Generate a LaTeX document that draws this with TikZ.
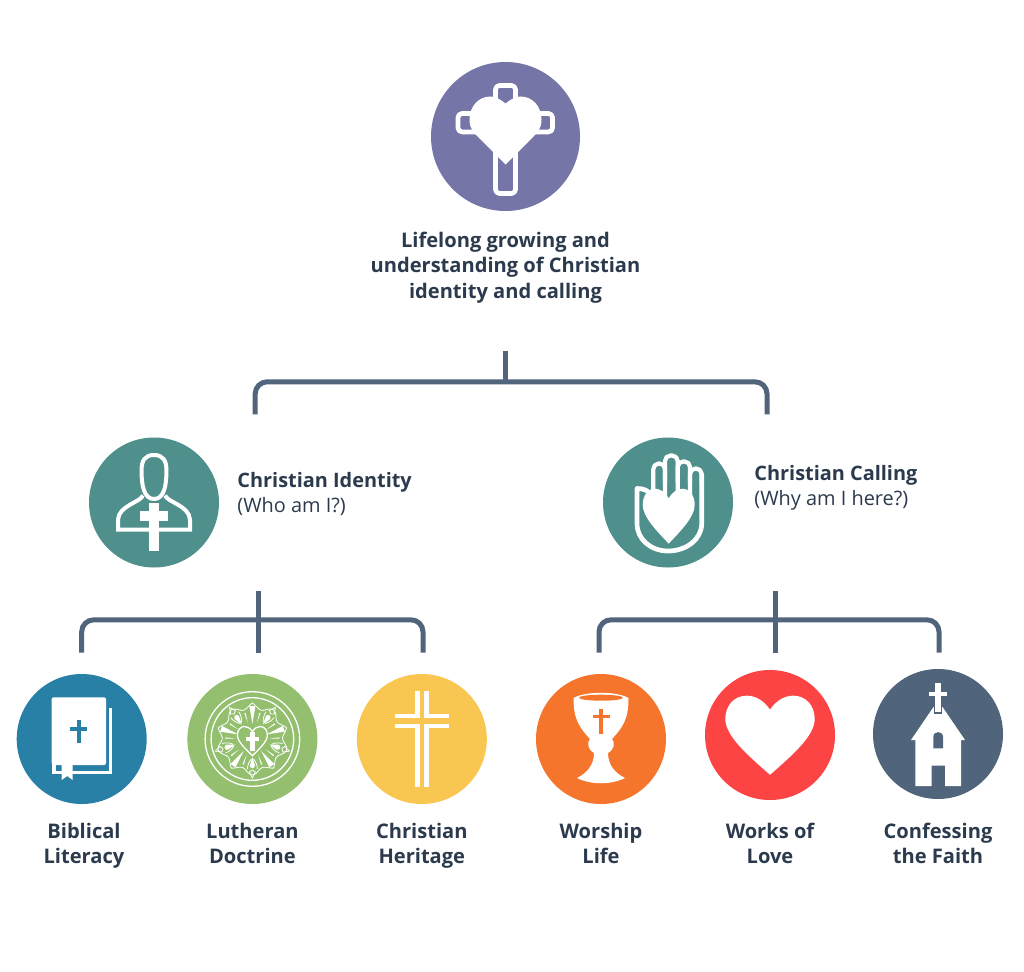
\documentclass[tikz,border=0pt]{standalone}
\usepackage{fontspec}
\setmainfont{Open Sans}
\usepackage{xcolor}
\usetikzlibrary{positioning}

\definecolor{inkText}{HTML}{2B3A4C}
\definecolor{barLine}{HTML}{50647B}
\definecolor{rootPurple}{HTML}{7575A8}
\definecolor{midTeal}{HTML}{4F8F8C}
\definecolor{bibBlue}{HTML}{2980A6}
\definecolor{lutGreen}{HTML}{93BF6F}
\definecolor{herYellow}{HTML}{F9C651}
\definecolor{worOrange}{HTML}{F5752D}
\definecolor{lovRed}{HTML}{FC4445}
\definecolor{conNavy}{HTML}{50647B}

% heart of half width 1
\def\heartpath{(0,-0.57) .. controls (0.15,-0.78) and (0.33,-0.88) .. (0.52,-0.88)
  .. controls (0.8,-0.88) and (1,-0.66) .. (1,-0.36)
  .. controls (1,0.02) and (0.5,0.45) .. (0,0.89)
  .. controls (-0.5,0.45) and (-1,0.02) .. (-1,-0.36)
  .. controls (-1,-0.66) and (-0.8,-0.88) .. (-0.52,-0.88)
  .. controls (-0.33,-0.88) and (-0.15,-0.78) .. (0,-0.57) -- cycle}

\begin{document}
\begin{tikzpicture}[
  x=1pt, y=-1pt,
  badge/.style={circle, minimum size=130pt, inner sep=0pt},
  bigbadge/.style={circle, minimum size=149pt, inner sep=0pt},
  capt/.style={align=center, text=inkText, inner sep=0pt,
              font=\bfseries\fontsize{20.1}{25.4}\selectfont},
  sidetext/.style={align=left, text=inkText, inner sep=0pt,
               font=\fontsize{19.9}{25}\selectfont},
  barline/.style={draw=barLine, line width=5pt, rounded corners=12pt},
  stemline/.style={draw=barLine, line width=5pt},
  wline/.style={draw=white, line width=4.7pt, line join=round},
  wfill/.style={fill=white, draw=none},
  thinw/.style={draw=white, line width=0.8pt}
]
  \useasboundingbox (0,0) rectangle (1024,971);

  % circles
  \node[bigbadge, fill=rootPurple] (root) at (505.5,136.5) {};
  \node[badge, fill=midTeal] (identity) at (154,502.5) {};
  \node[badge, fill=midTeal] (calling) at (668,502.5) {};
  \node[badge, fill=bibBlue] (biblical) at (81.7,739) {};
  \node[badge, fill=lutGreen, right=40.3pt of biblical] (lutheran) {};
  \node[badge, fill=herYellow, right=39pt of lutheran] (heritage) {};
  \node[badge, fill=worOrange] (worship) at (601,739) {};
  \node[badge, fill=lovRed] (works) at (770,735) {};
  \node[badge, fill=conNavy] (confess) at (938,734) {};

  % texts
  \node[capt, below=20.5pt of root] (rootText) {Lifelong growing and\\understanding of Christian\\identity and calling};
  \node[sidetext, right=18pt of identity.east, yshift=8pt] (identityText) {\textbf{Christian Identity}\\(Who am I?)};
  \node[sidetext, right=21pt of calling.east, yshift=15pt] (callingText) {\textbf{Christian Calling}\\(Why am I here?)};
  \node[capt, below=18.5pt of biblical, xshift=2.3pt] (biblicalText) {Biblical\\Literacy};
  \node[capt, below=18.5pt of lutheran] (lutheranText) {Lutheran\\Doctrine};
  \node[capt, below=18.5pt of heritage] (heritageText) {Christian\\Heritage};
  \node[capt, below=18.5pt of worship] (worshipText) {Worship\\Life};
  \node[capt, below=22.5pt of works] (worksText) {Works of\\Love};
  \node[capt, below=23.5pt of confess] (confessText) {Confessing\\the Faith};

  % brackets
  \coordinate (rootStem) at (505.8,350.5);
  \coordinate (rootJoin) at (505.8,381.8);
  \coordinate (identityEnd) at (255.2,414.3);
  \coordinate (callingEnd) at (767,414.3);
  \draw[stemline] (rootStem) -- (rootJoin);
  \draw[barline] (identityEnd) |- (rootJoin) -| (callingEnd);

  \coordinate (identityStem) at (258,590.7);
  \coordinate (identityFoot) at (258,652.7);
  \coordinate (identityJoin) at (258,619.8);
  \coordinate (biblicalEnd) at (81.7,652.7);
  \coordinate (heritageEnd) at (423,652.7);
  \draw[stemline] (identityStem) -- (identityFoot);
  \draw[barline] (biblicalEnd) |- (identityJoin) -| (heritageEnd);

  \coordinate (callingStem) at (775,590.7);
  \coordinate (callingFoot) at (775,652.7);
  \coordinate (callingJoin) at (775,619.8);
  \coordinate (worshipEnd) at (599,652.7);
  \coordinate (confessEnd) at (939,652.7);
  \draw[stemline] (callingStem) -- (callingFoot);
  \draw[barline] (worshipEnd) |- (callingJoin) -| (confessEnd);

  % cross and heart
  \begin{scope}[shift={(root.center)}]
    \draw[wline, rounded corners=4pt] (-10,-23) -- (-10,-51) -- (10,-51) -- (10,-23) -- (47,-23)
      -- (47,-4.6) -- (10,-4.6) -- (10,57) -- (-10,57) -- (-10,-4.6) -- (-47.5,-4.6) -- (-47.5,-23) -- cycle;
    \path[wfill] (0,-33) .. controls (5,-37) and (10,-40) .. (15,-40)
      .. controls (27,-40) and (36,-30) .. (36,-17) .. controls (36,-8) and (32,-4) .. (28,0)
      -- (0,28) -- (-28,0) .. controls (-32,-4) and (-36,-8) .. (-36,-17)
      .. controls (-36,-30) and (-27,-40) .. (-15,-40) .. controls (-10,-40) and (-5,-37) .. (0,-33) -- cycle;
  \end{scope}

  % person
  \begin{scope}[shift={(identity.center)}]
    \draw[wline, line width=4pt] (0,-47.5) .. controls (-9,-47.5) and (-12.5,-42) .. (-12.5,-32)
      .. controls (-12.5,-17) and (-10,-3.5) .. (0,-3.5) .. controls (10,-3.5) and (12.5,-17) .. (12.5,-32)
      .. controls (12.5,-42) and (9,-47.5) .. (0,-47.5) -- cycle;
    \draw[wline, line width=4pt, line join=miter] (-11,-7) .. controls (-14,0) and (-35,3) .. (-36,17) -- (-36,27)
      -- (36,27) -- (36,17) .. controls (35,3) and (14,0) .. (11,-7);
    \path[wfill] (-4.7,0) rectangle (5,48);
    \path[wfill] (-14,8.5) rectangle (14,18.5);
  \end{scope}

  % hand and heart
  \begin{scope}[shift={(calling.center)}]
    \draw[wline] (-16,-7) .. controls (-20,-12) and (-24,-14) .. (-31,-14) -- (-31,21)
      .. controls (-31,37) and (-17,48.5) .. (0,48.5) .. controls (18,48.5) and (33.7,37) .. (33.7,21) -- (33.7,-29);
    \draw[wline, line width=4.2pt, rounded corners=5.5pt] (33.7,-20) -- (33.7,-34) -- (22,-34) -- (22,-5);
    \draw[wline, line width=4.2pt, rounded corners=5.5pt] (22,-20) -- (22,-41) -- (9.7,-41) -- (9.7,-5);
    \draw[wline, line width=4.2pt, rounded corners=5.5pt] (9.7,-20) -- (9.7,-47) -- (-3,-47) -- (-3,-5);
    \draw[wline, line width=4.2pt, rounded corners=5.5pt] (-3,-20) -- (-3,-39) -- (-14.7,-39) -- (-14.7,-5);
    \path[wfill, shift={(0.7,13.5)}, xscale=26, yscale=31] \heartpath;
  \end{scope}

  % book
  \begin{scope}[shift={(biblical.center)}]
    \path[wfill, rounded corners=2pt] (-30,26) -- (-30,-41.7) -- (24.3,-41.7) -- (24.3,26) -- cycle;
    \path[wfill] (27.3,-31) rectangle (30.7,35);
    \path[wfill] (-30,25) rectangle (-26,35);
    \path[wfill] (-30,32) rectangle (30.7,35);
    \path[wfill] (-20,25) -- (-9,25) -- (-9,41) -- (-14.5,37) -- (-20,41) -- cycle;
    \path[fill=bibBlue] (-5,-19) rectangle (-1,3.7);
    \path[fill=bibBlue] (-11.7,-12) rectangle (5.7,-8);
  \end{scope}

  % rose
  \begin{scope}[shift={(lutheran.center)}]
    \draw[thinw, line width=1.3pt] (0,0) circle (47.3pt);
    \draw[thinw, line width=1.3pt] (0,0) circle (41.3pt);
    \foreach \ang in {0,72,144,216,288} {
      \begin{scope}[rotate=\ang]
        \path[wfill] (-3,-33) -- (3,-33) -- (0,-15) -- cycle;
        \draw[thinw] (-21.2,-29.1) .. controls (-16,-32) and (-12,-27) .. (-8,-29) .. controls (-5,-31) and (-2,-35) .. (0,-36)
          .. controls (2,-35) and (5,-31) .. (8,-29) .. controls (12,-27) and (16,-32) .. (21.2,-29.1);
        \begin{scope}[rotate=36]
          \path[wfill] (-2.6,-26.5) .. controls (-2.6,-30) and (2.6,-30) .. (2.6,-26.5) -- (0,-18) -- cycle;
          \draw[thinw] (-3,-33) -- (0,-39) -- (3,-33) -- (0,-31) -- cycle;
          \draw[thinw] (-5,-30) .. controls (-5,-26) and (-3,-22) .. (-1,-20);
          \draw[thinw] (5,-30) .. controls (5,-26) and (3,-22) .. (1,-20);
        \end{scope}
        \begin{scope}[rotate=16]
          \path[wfill] (-0.7,-27) -- (0.7,-27) -- (0,-17) -- cycle;
        \end{scope}
        \begin{scope}[rotate=-16]
          \path[wfill] (-0.7,-27) -- (0.7,-27) -- (0,-17) -- cycle;
        \end{scope}
      \end{scope}
    }
    \path[fill=lutGreen, draw=white, line width=1.3pt, shift={(0,2)}, xscale=15, yscale=16.5] \heartpath;
    \path[wfill] (-2.1,-7) rectangle (2.1,11.5);
    \path[wfill] (-6.5,-2) rectangle (7,2);
  \end{scope}

  % double cross
  \begin{scope}[shift={(heritage.center)}]
    \draw[wline, line join=miter] (-4.5,-48) -- (-4.5,-23) -- (-27,-23);
    \draw[wline, line join=miter] (4.5,-48) -- (4.5,-23) -- (27,-23);
    \draw[wline, line join=miter] (-27,-13) -- (-4.5,-13) -- (-4.5,48);
    \draw[wline, line join=miter] (27,-13) -- (4.5,-13) -- (4.5,48);
  \end{scope}

  % chalice
  \begin{scope}[shift={(worship.center)}]
    \path[wfill] (-27.5,-41) .. controls (-27.5,-20) and (-22,-12) .. (-11,0)
      .. controls (-14,3) and (-14,10) .. (-7,14) .. controls (-7,26) and (-14,34) .. (-24,39)
      .. controls (-10,46) and (10,46) .. (24,39) .. controls (14,34) and (7,26) .. (7,14)
      .. controls (14,10) and (14,3) .. (11,0) .. controls (22,-12) and (27.5,-20) .. (27.5,-41)
      .. controls (15,-48) and (-15,-48) .. (-27.5,-41) -- cycle;
    \path[fill=worOrange] (0,-41.3) ellipse [x radius=22pt, y radius=3pt];
    \path[fill=worOrange] (-1.6,-30) rectangle (1.6,-5.5);
    \path[fill=worOrange] (-8.5,-24) rectangle (8.5,-21.2);
  \end{scope}

  % heart
  \begin{scope}[shift={(works.center)}]
    \path[wfill, xscale=44.7, yscale=44.7] \heartpath;
  \end{scope}

  % church
  \begin{scope}[shift={(confess.center)}]
    \path[wfill] (-27,6) -- (-4.5,-27) -- (4.5,-27) -- (27,6) -- (23,6) -- (23,52) -- (7,52) -- (7,31.7)
      -- (-6.3,31.7) -- (-6.3,52) -- (-22.7,52) -- (-22.7,6) -- cycle;
    \path[fill=conNavy] (-4.2,-27.5) rectangle (4.2,-20.3);
    \path[wfill] (-2.7,-50.7) rectangle (2.7,-21.7);
    \path[wfill] (-8.7,-42.3) rectangle (9.3,-38.3);
    \path[fill=conNavy] (-4.7,14.3) -- (-4.7,3) .. controls (-4.7,-3.5) and (5,-3.5) .. (5,3) -- (5,14.3) -- cycle;
  \end{scope}
\end{tikzpicture}
\end{document}
